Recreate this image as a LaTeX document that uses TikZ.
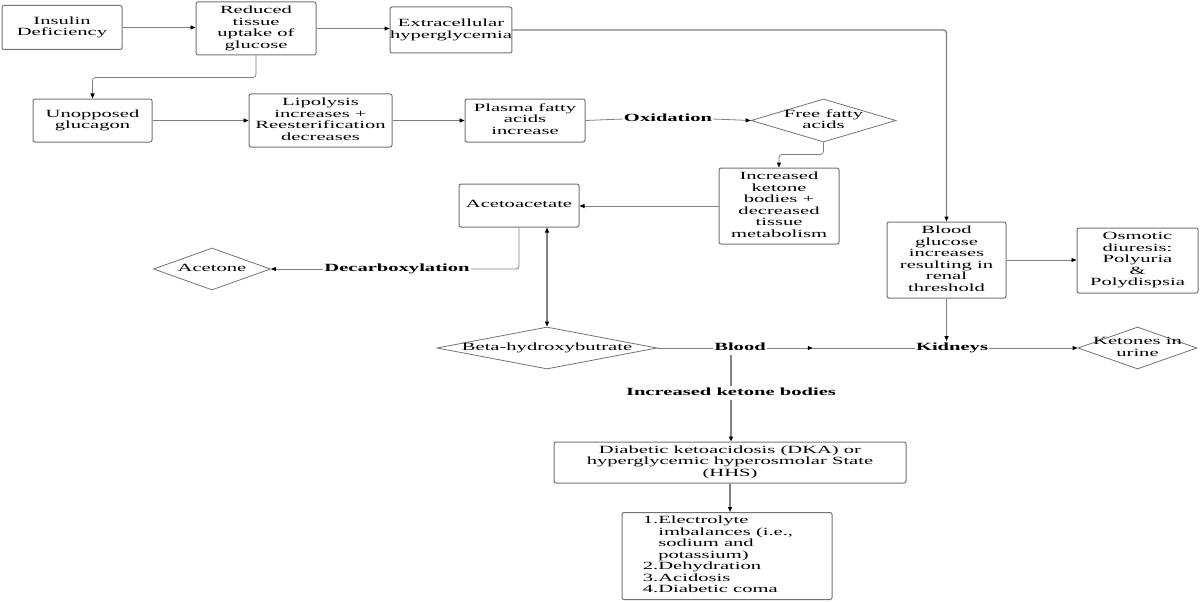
\documentclass[tikz,border=0pt]{standalone}
\usepackage{fontspec}
\setmainfont{Liberation Serif}
\usepackage{graphicx}
\usetikzlibrary{arrows.meta,shapes.geometric,decorations.markings}
\newcommand\tx[1]{\scalebox{1.87}[1]{\begin{tabular}{@{}c@{}}#1\end{tabular}}}
\newcommand\txl[1]{\scalebox{1.87}[1]{\begin{tabular}{@{}r@{}l@{}}#1\end{tabular}}}
\begin{document}
\begin{tikzpicture}[x=1pt,y=-1pt,
  every node/.style={font=\fontsize{11}{11.5}\selectfont},
  bx/.style 2 args={draw=black!55, line width=1pt, rounded corners=2pt, inner sep=0pt,
     minimum width=#1, minimum height=#2},
  dia/.style 2 args={diamond, draw=black!55, line width=0.8pt, inner sep=0pt,
     minimum width=#1, minimum height=#2},
  lbl/.style={font=\fontsize{11}{11.5}\selectfont\bfseries, inner sep=1pt},
  ln/.style={draw=black!50, line width=0.8pt},
  thk/.style={draw=black!50, line width=1.3pt},
  arr/.style={-{Triangle[length=5pt,width=4pt,color=black]}},
  darr/.style={{Triangle[length=5pt,width=4pt,color=black]}-{Triangle[length=5pt,width=4pt,color=black]}},
  midarr/.style={postaction={decorate,decoration={markings,
     mark=at position 0.31 with {\arrow{Triangle[length=5pt,width=4pt,color=black]}}}}}
]
\useasboundingbox (0,0) rectangle (1200,602);
% nodes
\node[bx={120pt}{44pt}] (ins) at (62,27.5) {\tx{Insulin\\Deficiency}};
\node[bx={120pt}{53pt}] (red) at (256,28.5) {\tx{Reduced\\tissue\\uptake of\\glucose}};
\node[bx={120pt}{46pt}] (ext) at (451,30) {\tx{Extracellular\\hyperglycemia}};
\node[bx={119pt}{43pt}] (unop) at (92.5,120.5) {\tx{Unopposed\\glucagon}};
\node[bx={143pt}{53pt}] (lip) at (320.5,120.5) {\tx{Lipolysis\\increases +\\Reesterification\\decreases}};
\node[bx={120pt}{43pt}] (plasma) at (525,120.5) {\tx{Plasma fatty\\acids\\increase}};
\node[lbl] (oxid) at (668,119) {\tx{Oxidation}};
\node[dia={145pt}{43pt}, label={center:\tx{Free fatty\\acids}}] (ffa) at (823.5,120.5) {};
\node[bx={120pt}{76pt}] (ik) at (779,206) {\tx{Increased\\ketone\\bodies +\\decreased\\tissue\\metabolism}};
\node[bx={120pt}{43pt}] (aceto) at (519,205.5) {\tx{Acetoacetate}};
\node[lbl] (decarb) at (397,269) {\tx{Decarboxylation}};
\node[dia={117pt}{42pt}, label={center:\tx{Acetone}}] (acetone) at (212,269) {};
\node[dia={220pt}{42pt}, label={center:\tx{Beta-hydroxybutrate}}] (beta) at (547,348) {};
\node[lbl] (blood) at (740,348) {\tx{Blood}};
\node[lbl] (kid) at (952,348) {\tx{Kidneys}};
\node[dia={119pt}{42pt}, label={center:\tx{Ketones in\\urine}}] (ket) at (1137.5,348) {};
\node[bx={119pt}{76pt}] (bg) at (946.5,260) {\tx{Blood\\glucose\\increases\\resulting in\\renal\\threshold}};
\node[bx={121pt}{65pt}] (osm) at (1137.5,260.5) {\tx{Osmotic\\diuresis:\\Polyuria\\\&\\Polydispsia}};
\node[lbl] (ikb) at (731,393) {\tx{Increased ketone bodies}};
\node[bx={352pt}{41pt}] (dka) at (730,462.5) {\tx{Diabetic ketoacidosis (DKA) or\\hyperglycemic hyperosmolar State\\(HHS)}};
\node[bx={210pt}{87pt}] (list) at (727,556) {\txl{1.&Electrolyte\\&imbalances (i.e.,\\&sodium and\\&potassium)\\2.&Dehydration\\3.&Acidosis\\4.&Diabetic coma}\hspace*{18pt}};
% connectors
\draw[ln,arr] (ins.east) -- (ins.east -| red.west);
\draw[ln,arr] (red.east) -- (red.east -| ext.west);
\draw[thk,arr,rounded corners=3pt] (ext.east) -| (bg.north);
\draw[ln,arr,rounded corners=3pt] (red.south) -- ++(0,22) -| (unop.north);
\draw[ln,arr] (unop.east) -- (lip.west);
\draw[ln,arr] (lip.east) -- (plasma.west);
\draw[ln] (plasma.east) -- (oxid.west);
\draw[ln,arr] (oxid.east) -- (ffa.west);
\draw[ln,arr,rounded corners=3pt] (ffa.south) -- ++(0,12) -| (ik.north);
\draw[ln,arr] (ik.west) -- (ik.west -| aceto.east);
\draw[ln,rounded corners=3pt] (aceto.south) |- (decarb.east);
\draw[ln,arr] (decarb.west) -- (acetone.east);
\draw[thk,darr] (beta.north) -- (beta.north |- aceto.south);
\draw[ln] (beta.east) -- (blood.west);
\draw[ln,midarr] (blood.east) -- (kid.west);
\draw[ln,arr] (kid.east) -- (ket.west);
\draw[thk,arr] (bg.south) -- (bg.south |- kid.north);
\draw[ln,arr] (bg.east) -- (bg.east -| osm.west);
\draw[thk] (blood.south -| ikb.north) -- (ikb.north);
\draw[thk,arr] (ikb.south) -- (ikb.south |- dka.north);
\draw[thk,arr] (dka.south) -- (dka.south |- list.north);
\end{tikzpicture}
\end{document}
